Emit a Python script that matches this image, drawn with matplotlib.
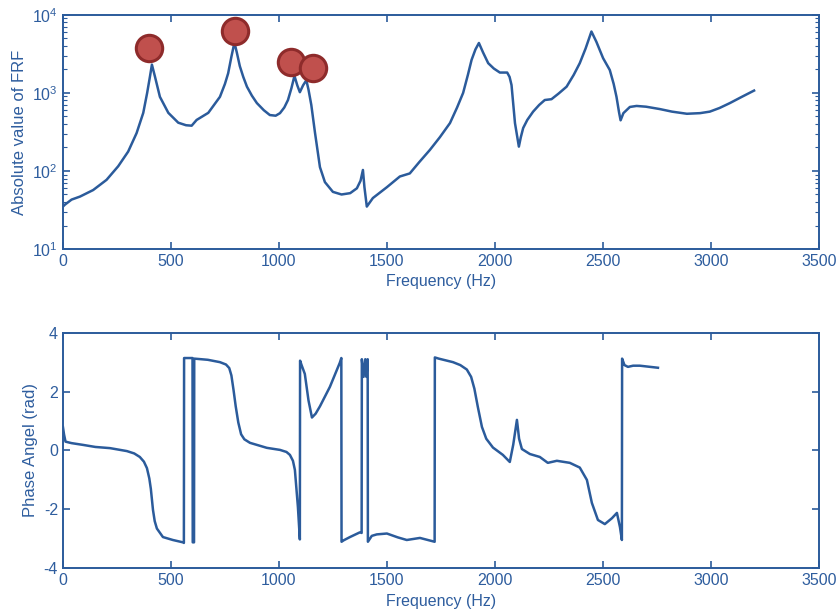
import matplotlib.pyplot as plt
from matplotlib.ticker import LogLocator

plt.rcParams['font.family'] = ['Liberation Sans', 'DejaVu Sans']
plt.rcParams['axes.unicode_minus'] = False

# FRF magnitude
freq_mag = [0, 9, 40, 79, 140, 202, 256, 302, 341, 372, 390, 403, 412, 426,
            449, 488, 534, 570, 596, 603, 619, 673, 727, 750, 765, 780, 794,
            805, 819, 835, 852, 875, 898, 930, 958, 985, 1005, 1025, 1042,
            1058, 1072, 1085, 1097, 1112, 1127, 1137, 1150, 1167, 1190, 1213,
            1250, 1290, 1330, 1361, 1378, 1389, 1396, 1407, 1435, 1500, 1560,
            1606, 1650, 1699, 1745, 1792, 1825, 1853, 1875, 1892, 1910, 1926,
            1945, 1969, 1995, 2023, 2057, 2068, 2077, 2093, 2111, 2120, 2131,
            2150, 2177, 2205, 2231, 2262, 2295, 2332, 2365, 2393, 2420, 2447,
            2470, 2501, 2532, 2550, 2563, 2575, 2582, 2595, 2625, 2656, 2700,
            2764, 2820, 2889, 2950, 2995, 3040, 3088, 3140, 3200]
mag = [35, 37, 43, 47, 57, 77, 115, 177, 305, 555, 1000, 1620, 2300, 1620,
       890, 555, 415, 385, 380, 400, 450, 555, 890, 1300, 1780, 2900, 4400,
       3300, 2200, 1600, 1200, 920, 740, 600, 520, 510, 550, 650, 810,
       1150, 1650, 1250, 1020, 1250, 1450, 1100, 700, 310, 112, 72,
       54, 50, 52, 60, 75, 103, 62, 35, 45, 62, 85,
       93, 130, 186, 270, 410, 650, 1000, 1700, 2640, 3600, 4350,
       3300, 2400, 2050, 1820, 1820, 1600, 1260, 410, 205, 270, 355,
       450, 575, 700, 810, 830, 980, 1200, 1700, 2400, 3700, 6100,
       4500, 2780, 1960, 1300, 890, 560, 445, 550, 660, 680, 665,
       620, 575, 540, 550, 575, 640, 740, 880, 1070]

# picked resonance peaks
peak_freq = [398, 796, 1056, 1157]
peak_mag = [3780, 6200, 2500, 2100]

# phase angle
freq_ph = [0, 5, 12, 40, 93, 150, 218, 296, 330, 356, 375, 389, 400, 407, 417,
           425, 435, 463, 509, 556, 560, 561, 600, 601, 607, 608, 640, 671,
           727, 755, 770, 780, 790, 800, 812, 825, 840, 866, 944, 1005, 1035,
           1051, 1065, 1074, 1088, 1097, 1098, 1105, 1120, 1137, 1153, 1170,
           1190, 1236, 1282, 1289, 1290, 1300, 1329, 1375, 1383, 1384, 1392,
           1400, 1405, 1411, 1412, 1430, 1453, 1500, 1550, 1592, 1653, 1721,
           1722, 1740, 1806, 1840, 1870, 1890, 1905, 1921, 1940, 1960, 1991,
           2037, 2069, 2085, 2102, 2112, 2125, 2162, 2208, 2245, 2287, 2347,
           2393, 2426, 2449, 2477, 2509, 2542, 2565, 2579, 2588, 2589, 2600,
           2616, 2640, 2671, 2755]
phase = [0.80, 0.55, 0.30, 0.25, 0.19, 0.12, 0.08, -0.02, -0.10, -0.22, -0.38,
         -0.6, -0.95, -1.3, -2.02, -2.4, -2.65, -2.94, -3.04, -3.12, -3.14,
         3.14, 3.14, -3.12, -3.12, 3.12, 3.1, 3.08, 3.0, 2.92, 2.8, 2.55,
         2.05, 1.5, 0.95, 0.55, 0.38, 0.26, 0.09, 0.02, -0.05,
         -0.15, -0.35, -0.66, -1.92, -3.02, 3.05, 2.9, 2.6, 1.7, 1.12, 1.25,
         1.5, 2.16, 2.98, 3.14, -3.1, -3.05, -2.94, -2.78, -2.8, 3.1, 2.5,
         3.1, 2.5, 3.1, -3.1, -2.9, -2.85, -2.82, -2.95, -3.04, -2.97, -3.1,
         3.16, 3.12, 3.0, 2.9, 2.75, 2.5, 2.1, 1.48, 0.8, 0.4, 0.1,
         -0.15, -0.39, 0.2, 1.04, 0.4, 0.05, -0.12, -0.22, -0.42, -0.35, -0.42,
         -0.58, -1.0, -1.78, -2.36, -2.5, -2.3, -2.12, -2.6, -3.04, 3.12, 2.9,
         2.84, 2.88, 2.88, 2.81]

blue = '#2b5b9b'
text_blue = '#2e5d9e'

fig = plt.figure(figsize=(8.39, 6.15), dpi=100)
ax1 = fig.add_axes([0.075, 0.595, 0.901, 0.381])
ax2 = fig.add_axes([0.075, 0.076, 0.901, 0.383])

ax1.plot(freq_mag, mag, color=blue, lw=1.8)
ax1.plot(peak_freq, peak_mag, 'o', ms=19, mfc='#c0504d', mec='#8e2b2b',
         mew=2.2, zorder=5)
ax1.set_yscale('log')
ax1.set_ylim(10, 10000)
ax1.yaxis.set_major_locator(LogLocator(base=10, numticks=10))
ax1.set_ylabel('Absolute value of FRF', color=text_blue, fontsize=12)

ax2.plot(freq_ph, phase, color=blue, lw=1.8)
ax2.set_ylim(-4, 4)
ax2.set_yticks([-4, -2, 0, 2, 4])
ax2.set_ylabel('Phase Angel (rad)', color=text_blue, fontsize=12)

for ax in (ax1, ax2):
    ax.set_xlim(0, 3500)
    ax.set_xticks(range(0, 3501, 500))
    ax.set_xlabel('Frequency (Hz)', color=text_blue, fontsize=11.5)
    ax.tick_params(which='both', direction='in', top=True, right=True,
                   colors=blue, labelcolor=text_blue, labelsize=11.5)
    ax.tick_params(which='major', length=5, width=1.2)
    ax.tick_params(which='minor', length=3, width=0.8)
    for sp in ax.spines.values():
        sp.set_color(blue)
        sp.set_linewidth(1.4)

fig.savefig('out.png', dpi=100)
